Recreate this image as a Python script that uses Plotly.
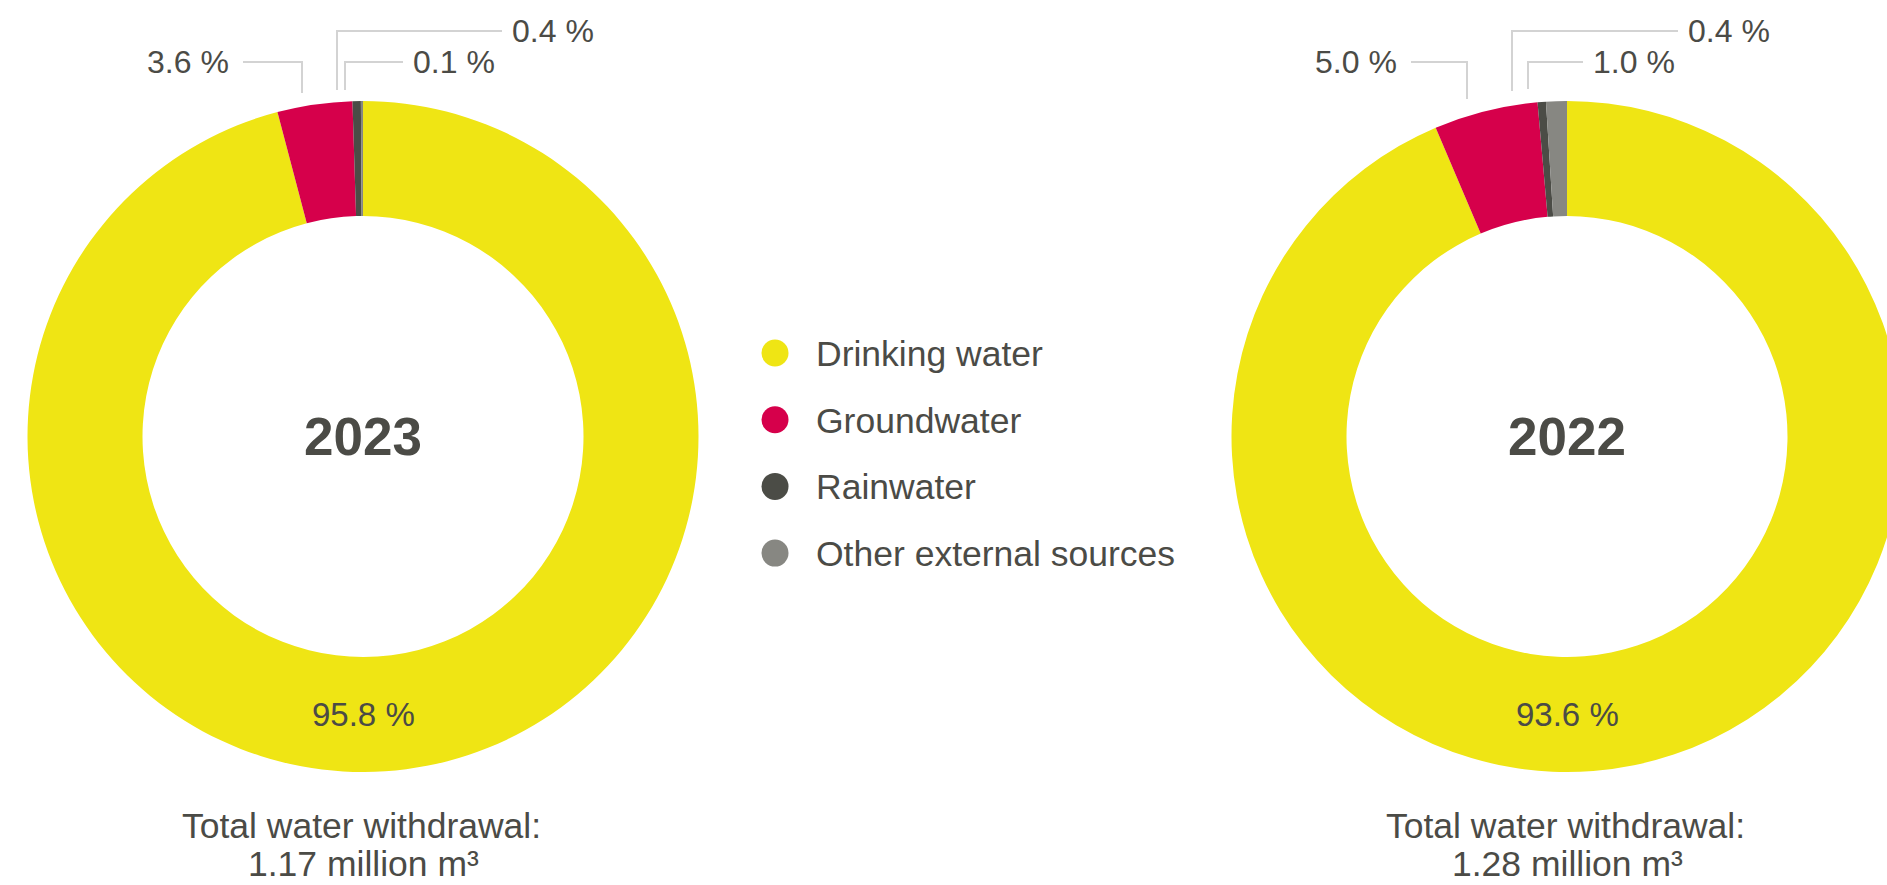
import plotly.graph_objects as go

# ---- data -------------------------------------------------------------
CATEGORIES = ["Drinking water", "Groundwater", "Rainwater", "Other external sources"]
YEARS = ["2023", "2022"]
SHARE_2023 = [95.8, 3.6, 0.4, 0.1]
SHARE_2022 = [93.6, 5.0, 0.4, 1.0]
TOTALS = ["1.17", "1.28"]  # million m³

COLORS = ["#EFE514", "#D6004B", "#4B4C46", "#878782"]
TEXT = "#4B4B46"
LEADER = "#D3D3D3"
FONT = "Liberation Sans"

# ---- page geometry (pixels) ------------------------------------------
W, H = 1920, 885
R_OUT, R_IN = 335.5, 220.5
CY = 436.5
CENTERS_X = [363, 1567]

# callout layout per donut: slice index -> (vertical x offset, line bottom y,
# elbow y, horizontal end x offset, side of text)
CALLOUTS = [
    {1: (-61, 93, 62, -120, "left"), 2: (-26, 90, 31, 139, "right"), 3: (-18, 90, 62, 40, "right")},
    {1: (-100, 99, 62, -156, "left"), 2: (-55, 91, 31, 111, "right"), 3: (-39, 89, 62, 16, "right")},
]

LEGEND_X, LEGEND_Y0, LEGEND_STEP = 775, 353, 66.7


def fmt(v):
    return f"{v:.1f} %"


fig = go.Figure()

shapes, annotations = [], []
for k, (year, shares, total) in enumerate(zip(YEARS, [SHARE_2023, SHARE_2022], TOTALS)):
    cx = CENTERS_X[k]
    fig.add_trace(go.Pie(
        labels=CATEGORIES,
        values=shares,
        marker=dict(colors=COLORS, line=dict(width=0)),
        hole=R_IN / R_OUT,
        sort=False,
        direction="clockwise",
        rotation=0,
        textinfo="none",
        hoverinfo="label+percent",
        showlegend=False,
        domain=dict(
            x=[(cx - R_OUT) / W, (cx + R_OUT) / W],
            y=[(H - (CY + R_OUT)) / H, (H - (CY - R_OUT)) / H],
        ),
    ))

    # year in the hole
    annotations.append(dict(x=cx, y=CY, text=f"<b>{year}</b>", showarrow=False,
                            xref="x", yref="y", xanchor="center", yanchor="middle",
                            font=dict(size=53, color=TEXT, family=FONT)))
    # main share inside the ring
    annotations.append(dict(x=cx, y=CY + (R_OUT + R_IN) / 2, text=fmt(shares[0]),
                            showarrow=False, xref="x", yref="y",
                            xanchor="center", yanchor="middle",
                            font=dict(size=33, color=TEXT, family=FONT)))
    # small shares with elbow leader lines
    for idx, (vx, yb, ye, hx, side) in CALLOUTS[k].items():
        shapes.append(dict(type="path", xref="x", yref="y",
                           path=f"M {cx + vx} {yb} L {cx + vx} {ye} L {cx + hx} {ye}",
                           line=dict(color=LEADER, width=2)))
        if side == "left":
            annotations.append(dict(x=cx + hx - 12, y=ye, text=fmt(shares[idx]),
                                    showarrow=False, xref="x", yref="y",
                                    xanchor="right", yanchor="middle",
                                    font=dict(size=32, color=TEXT, family=FONT)))
        else:
            annotations.append(dict(x=cx + hx + 8, y=ye, text=fmt(shares[idx]),
                                    showarrow=False, xref="x", yref="y",
                                    xanchor="left", yanchor="middle",
                                    font=dict(size=32, color=TEXT, family=FONT)))
    # totals below
    annotations.append(dict(x=cx - 2, y=826, text="Total water withdrawal:",
                            showarrow=False, xref="x", yref="y",
                            xanchor="center", yanchor="middle",
                            font=dict(size=35.5, color=TEXT, family=FONT)))
    annotations.append(dict(x=cx, y=864, text=f"{total} million m³",
                            showarrow=False, xref="x", yref="y",
                            xanchor="center", yanchor="middle",
                            font=dict(size=35.5, color=TEXT, family=FONT)))

# legend in the middle
legend_y = [LEGEND_Y0 + i * LEGEND_STEP for i in range(len(CATEGORIES))]
fig.add_trace(go.Scatter(
    x=[LEGEND_X] * len(CATEGORIES), y=legend_y, mode="markers",
    marker=dict(size=27, color=COLORS, line=dict(width=0)),
    hoverinfo="skip", showlegend=False, cliponaxis=False,
))
for name, y in zip(CATEGORIES, legend_y):
    annotations.append(dict(x=LEGEND_X + 39, y=y + 1, text=name, showarrow=False,
                            xref="x", yref="y", xanchor="left", yanchor="middle",
                            font=dict(size=35.5, color=TEXT, family=FONT)))

fig.update_layout(
    width=W, height=H,
    margin=dict(l=0, r=0, t=0, b=0),
    paper_bgcolor="white", plot_bgcolor="white",
    xaxis=dict(range=[0, W], visible=False, fixedrange=True),
    yaxis=dict(range=[H, 0], visible=False, fixedrange=True),
    shapes=shapes, annotations=annotations,
    font=dict(family=FONT, color=TEXT),
)

fig.write_html(
    "out.html",
    post_script="document.documentElement.style.overflow='hidden';"
                "document.body.style.overflow='hidden';document.body.style.margin='0';",
)
